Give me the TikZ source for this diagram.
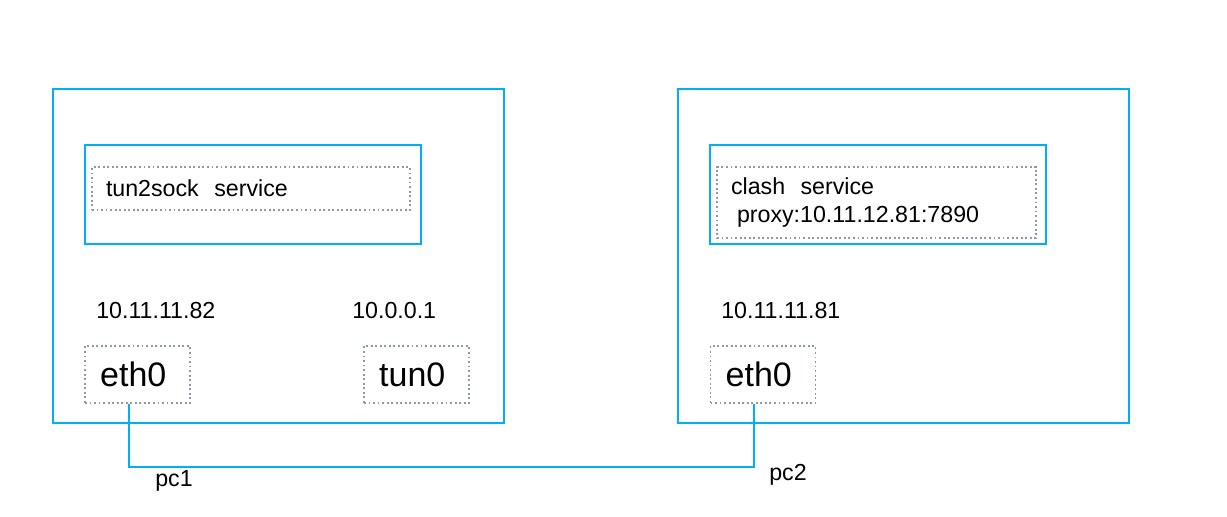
\documentclass[tikz,border=0pt]{standalone}
\usepackage{fontspec}
\setmainfont{Liberation Sans}
\definecolor{netblue}{RGB}{0,176,240}
\definecolor{dotgray}{RGB}{140,155,155}
\newcommand{\smallsz}{\fontsize{17.4}{22}\selectfont}
\newcommand{\bigsz}{\fontsize{25.5}{30}\selectfont}
\tikzset{
  hostbox/.style={draw=netblue, line width=1.5pt},
  portbox/.style={draw=dotgray, dotted, line width=1.4pt, minimum width=78.75pt, minimum height=42.75pt,
    inner xsep=11pt, text width=56pt, align=left, font=\bigsz},
  svcbox/.style={draw=dotgray, dotted, line width=1.4pt, inner xsep=10.5pt, align=left, font=\smallsz},
  lbl/.style={font=\smallsz, inner sep=0pt, anchor=west}
}

\begin{document}
\begin{tikzpicture}[x=0.75pt, y=-0.75pt]
\useasboundingbox (0,0) rectangle (1227,517);
% pc1
\draw[hostbox] (53,89) rectangle (504,423);
\draw[hostbox] (85,145) rectangle (421,244);
\node[svcbox, minimum width=238.5pt, minimum height=32.25pt, text width=217.5pt] (tunsvc) at (251,188.5) {tun2sock\ \ service};
\node[lbl] (ipa) at (96,311) {10.11.11.82};
\node[lbl] (iptun) at (352,311) {10.0.0.1};
\node[portbox] (etha) at (137.5,374.5) {eth0};
\node[portbox] (tun) at (416.5,374.5) {tun0};
% pc2
\draw[hostbox] (678,89) rectangle (1129,423);
\draw[hostbox] (710,145) rectangle (1046,244);
\node[svcbox, minimum width=239.25pt, minimum height=53.25pt, text width=218.25pt] (clashsvc) at (876.5,202.5) {\raisebox{-1pt}{clash\ \ service}\\ \hspace{4.5pt}proxy:10.11.12.81:7890};
\node[lbl] (ipb) at (721,311) {10.11.11.81};
\node[portbox] (ethb) at (763,374.5) {eth0};
% wire
\coordinate (wire) at (0,467);
\draw[netblue, line width=1.5pt] ([xshift=-6.4pt]etha.south) -- ([xshift=-6.4pt]etha.south |- wire) -| ([xshift=-6.8pt]ethb.south);
\node[lbl] (pca) at (155,481) {pc1};
\node[lbl] (pcb) at (769,475) {pc2};
\end{tikzpicture}
\end{document}
